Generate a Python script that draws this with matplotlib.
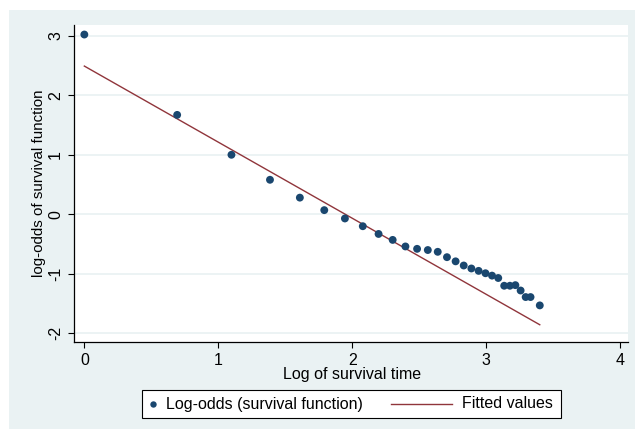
import matplotlib
matplotlib.use("Agg")
import matplotlib.pyplot as plt
from matplotlib.patches import Rectangle
from matplotlib.lines import Line2D
import numpy as np

plt.rcParams['font.family'] = ['Liberation Sans', 'DejaVu Sans']

# ---- data ----
survival_time = [1, 2, 3, 4, 5, 6, 7, 8, 9, 10, 11, 12, 13, 14, 15, 16, 17,
                 18, 19, 20, 21, 22, 23, 24, 25, 26, 27, 28, 30]
log_odds = [3.02, 1.67, 1.00, 0.58, 0.28, 0.07, -0.07, -0.20, -0.33, -0.43,
            -0.54, -0.58, -0.60, -0.63, -0.72, -0.79, -0.86, -0.91, -0.95,
            -0.99, -1.03, -1.07, -1.20, -1.20, -1.19, -1.28, -1.39, -1.39, -1.53]
fitted_x = [0.0, 3.401]
fitted_y = [2.49, -1.855]
x_ticks = [0, 1, 2, 3, 4]
y_ticks = [-2, -1, 0, 1, 2, 3]
x_label = "Log of survival time"
y_label = "log-odds of survival function"
legend_labels = ["Log-odds (survival function)", "Fitted values"]

MARKER_C = "#1A476F"
LINE_C = "#90353B"
BG = "#EAF2F3"
FS = 11.5

W, H = 635, 430
fig = plt.figure(figsize=(W / 100, H / 100), dpi=100, facecolor="white")

def fx(px):
    return px / W

def fy(py):
    return 1 - py / H

# graph region background
fig.patches.append(Rectangle((fx(9), fy(429)), fx(635) - fx(9), fy(10) - fy(429),
                             transform=fig.transFigure, facecolor=BG,
                             edgecolor="none", zorder=-5))

# plot region
pl, pr, pt, pb = 74.3, 628, 25, 342.3
ax = fig.add_axes([fx(pl), fy(pb), fx(pr) - fx(pl), fy(pt) - fy(pb)])
ax.set_zorder(1)
ax.set_facecolor("white")

x = np.log(np.array(survival_time, dtype=float))
ax.plot(fitted_x, fitted_y, color=LINE_C, lw=1.0, zorder=3)
ax.scatter(x, log_odds, s=32, color=MARKER_C, edgecolors="none", zorder=4)

ax.set_xlim(-0.075, 4.06)
ax.set_ylim(-2.15, 3.18)
ax.set_xticks(x_ticks)
ax.set_yticks(y_ticks)
ax.set_xticklabels([str(t) for t in x_ticks], fontsize=FS)
ax.set_yticklabels([str(t) for t in y_ticks], fontsize=FS, rotation=90, va="center")
for yt in y_ticks:
    ax.axhline(yt, color=BG, lw=1.3, zorder=1)

for s in ["top", "right"]:
    ax.spines[s].set_visible(False)
for s in ["left", "bottom"]:
    ax.spines[s].set_linewidth(0.9)
    ax.spines[s].set_color("black")
ax.tick_params(axis="both", direction="out", length=4, width=0.8, color="black")
ax.tick_params(axis="x", pad=3.5)
ax.tick_params(axis="y", pad=4)

fig.text(fx(352), fy(374), x_label, ha="center", va="center", fontsize=FS)
fig.text(fx(39), fy(183.6), y_label, ha="center", va="center", fontsize=10.9,
         rotation=90)

# legend box
lx0, lx1, ly0, ly1 = 142.3, 561, 390, 418
fig.patches.append(Rectangle((fx(lx0), fy(ly1)), fx(lx1) - fx(lx0), fy(ly0) - fy(ly1),
                             transform=fig.transFigure, facecolor="white",
                             edgecolor="black", lw=0.8, zorder=2))
ly = fy((ly0 + ly1) / 2)
fig.lines.append(Line2D([fx(153.3)], [ly], transform=fig.transFigure, marker="o",
                        markersize=4.6, color=MARKER_C, markeredgewidth=0,
                        linestyle="none", zorder=3))
fig.text(fx(166.5), ly, legend_labels[0], ha="left", va="center", fontsize=FS, zorder=3)
fig.lines.append(Line2D([fx(390.7), fx(451.7)], [ly, ly], transform=fig.transFigure,
                        color=LINE_C, lw=1.0, zorder=3))
fig.text(fx(461.5), ly, legend_labels[1], ha="left", va="center", fontsize=FS, zorder=3)

fig.savefig("out.png", dpi=100, facecolor="white")
